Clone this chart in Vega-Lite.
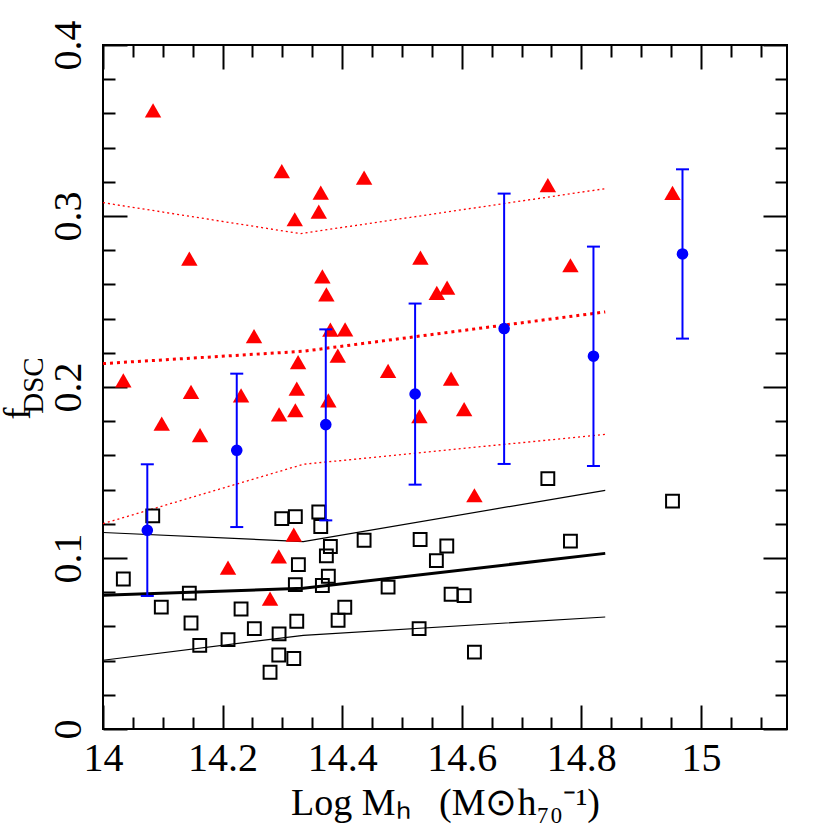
{
  "$schema": "https://vega.github.io/schema/vega-lite/v6.json",
  "width": 684,
  "height": 684,
  "autosize": "none",
  "padding": {"left": 103, "top": 45, "right": 43, "bottom": 101},
  "background": "white",
  "config": {
    "view": {"stroke": "black", "strokeWidth": 2},
    "axis": {"domain": false, "grid": false, "tickColor": "black", "tickWidth": 2, "labelColor": "black", "titleColor": "black", "labelFont": "Liberation Serif", "titleFont": "Liberation Serif", "titleFontWeight": "normal", "labelFlush": false, "labelOverlap": false, "labelBound": false}
  },
  "datasets": {
    "lines": [
      {"series": "black_mid", "x": 14.0, "y": 0.0782},
      {"series": "black_mid", "x": 14.335, "y": 0.0823},
      {"series": "black_mid", "x": 14.84, "y": 0.1027},
      {"series": "black_hi", "x": 14.0, "y": 0.1149},
      {"series": "black_hi", "x": 14.335, "y": 0.1096},
      {"series": "black_hi", "x": 14.84, "y": 0.1396},
      {"series": "black_lo", "x": 14.0, "y": 0.0402},
      {"series": "black_lo", "x": 14.335, "y": 0.0548},
      {"series": "black_lo", "x": 14.84, "y": 0.0655},
      {"series": "red_mid", "x": 14.0, "y": 0.2137},
      {"series": "red_mid", "x": 14.335, "y": 0.2209},
      {"series": "red_mid", "x": 14.84, "y": 0.2439},
      {"series": "red_hi", "x": 14.0, "y": 0.3078},
      {"series": "red_hi", "x": 14.33, "y": 0.2897},
      {"series": "red_hi", "x": 14.84, "y": 0.316},
      {"series": "red_lo", "x": 14.0, "y": 0.1201},
      {"series": "red_lo", "x": 14.335, "y": 0.1548},
      {"series": "red_lo", "x": 14.84, "y": 0.1723}
    ],
    "tri": [
      {"x": 14.034, "y": 0.2039}, {"x": 14.0837, "y": 0.3618}, {"x": 14.0982, "y": 0.1786},
      {"x": 14.1444, "y": 0.2751}, {"x": 14.1472, "y": 0.1971}, {"x": 14.1623, "y": 0.1718},
      {"x": 14.2091, "y": 0.0944}, {"x": 14.2309, "y": 0.1951}, {"x": 14.2526, "y": 0.2298},
      {"x": 14.2794, "y": 0.0763}, {"x": 14.294, "y": 0.101}, {"x": 14.2945, "y": 0.184},
      {"x": 14.299, "y": 0.3263}, {"x": 14.3191, "y": 0.1137}, {"x": 14.3217, "y": 0.1864},
      {"x": 14.3207, "y": 0.2981}, {"x": 14.3241, "y": 0.1991}, {"x": 14.3263, "y": 0.2146},
      {"x": 14.3609, "y": 0.3026}, {"x": 14.3642, "y": 0.3137}, {"x": 14.3669, "y": 0.2647},
      {"x": 14.3736, "y": 0.2542}, {"x": 14.3769, "y": 0.1922}, {"x": 14.3803, "y": 0.2336},
      {"x": 14.3927, "y": 0.2184}, {"x": 14.4049, "y": 0.2337}, {"x": 14.4367, "y": 0.3225},
      {"x": 14.4768, "y": 0.2094}, {"x": 14.5309, "y": 0.2757}, {"x": 14.5292, "y": 0.1829},
      {"x": 14.5583, "y": 0.255}, {"x": 14.5755, "y": 0.2581}, {"x": 14.5822, "y": 0.2049},
      {"x": 14.604, "y": 0.187}, {"x": 14.6212, "y": 0.1367}, {"x": 14.744, "y": 0.318},
      {"x": 14.7818, "y": 0.2712}, {"x": 14.9525, "y": 0.3135}
    ],
    "sq": [
      {"x": 14.034, "y": 0.0877}, {"x": 14.0832, "y": 0.1246}, {"x": 14.0975, "y": 0.0713},
      {"x": 14.1444, "y": 0.0795}, {"x": 14.1472, "y": 0.062}, {"x": 14.1618, "y": 0.0489},
      {"x": 14.2091, "y": 0.0523}, {"x": 14.2309, "y": 0.0702}, {"x": 14.2531, "y": 0.0587},
      {"x": 14.2794, "y": 0.0332}, {"x": 14.2945, "y": 0.0556}, {"x": 14.294, "y": 0.0433},
      {"x": 14.3191, "y": 0.0412}, {"x": 14.299, "y": 0.123}, {"x": 14.3217, "y": 0.1242},
      {"x": 14.3268, "y": 0.0961}, {"x": 14.3217, "y": 0.0844}, {"x": 14.3241, "y": 0.063},
      {"x": 14.3609, "y": 0.1269}, {"x": 14.3642, "y": 0.1184}, {"x": 14.3803, "y": 0.1067},
      {"x": 14.3736, "y": 0.1012}, {"x": 14.3769, "y": 0.0893}, {"x": 14.3669, "y": 0.0839},
      {"x": 14.4044, "y": 0.0712}, {"x": 14.3932, "y": 0.0636}, {"x": 14.4367, "y": 0.1104},
      {"x": 14.4768, "y": 0.083}, {"x": 14.5304, "y": 0.1108}, {"x": 14.575, "y": 0.107},
      {"x": 14.5576, "y": 0.0985}, {"x": 14.5822, "y": 0.0788}, {"x": 14.604, "y": 0.078},
      {"x": 14.5287, "y": 0.0587}, {"x": 14.6212, "y": 0.045}, {"x": 14.7818, "y": 0.1099},
      {"x": 14.9525, "y": 0.1333}, {"x": 14.744, "y": 0.1464}
    ],
    "blue": [
      {"x": 14.0741, "y": 0.1162, "lo": 0.0778, "hi": 0.1548},
      {"x": 14.2237, "y": 0.163, "lo": 0.1181, "hi": 0.2078},
      {"x": 14.3726, "y": 0.178, "lo": 0.122, "hi": 0.2337},
      {"x": 14.522, "y": 0.1959, "lo": 0.1429, "hi": 0.2488},
      {"x": 14.6709, "y": 0.2342, "lo": 0.155, "hi": 0.3131},
      {"x": 14.8203, "y": 0.218, "lo": 0.1538, "hi": 0.2821},
      {"x": 14.9692, "y": 0.2778, "lo": 0.2283, "hi": 0.3273}
    ]
  },
  "resolve": {"axis": {"x": "independent", "y": "independent"}},
  "layer": [
    {
      "data": {"name": "lines"},
      "transform": [{"filter": "datum.series === 'black_mid'"}],
      "mark": {"type": "line", "color": "black", "strokeWidth": 3},
      "encoding": {
        "x": {"field": "x", "type": "quantitative", "scale": {"domain": [14, 15.144], "nice": false, "zero": false},
          "axis": {"orient": "bottom", "values": [14, 14.2, 14.4, 14.6, 14.8, 15], "format": "~g", "tickSize": -24, "labelFontSize": 40, "labelBaseline": "alphabetic", "labelAlign": "center", "labelPadding": 65,
            "title": "Log M\u2095\u00a0\u00a0\u00a0(M\u2299h\u2087\u2080\u207b\u00b9)", "titleFontSize": 38, "titleBaseline": "alphabetic", "titleY": 85}},
        "y": {"field": "y", "type": "quantitative", "scale": {"domain": [0, 0.4], "nice": false, "zero": false},
          "axis": {"orient": "left", "values": [0, 0.1, 0.2, 0.3, 0.4], "format": "~g", "tickSize": -24, "labelFontSize": 40, "labelAngle": 270, "labelAlign": "center", "labelBaseline": "alphabetic", "labelPadding": 47,
            "title": "f", "titleFontSize": 37, "titleAngle": 270, "titleAlign": "center", "titleBaseline": "alphabetic", "titleX": -74, "titleY": 368}}
      }
    },
    {
      "data": {"name": "lines"},
      "transform": [{"filter": "datum.series === 'black_hi' || datum.series === 'black_lo'"}],
      "mark": {"type": "line", "color": "black", "strokeWidth": 1.2},
      "encoding": {
        "detail": {"field": "series"},
        "x": {"field": "x", "type": "quantitative", "scale": {"domain": [14, 15.144], "nice": false, "zero": false},
          "axis": {"orient": "bottom", "values": [14.05, 14.1, 14.15, 14.25, 14.3, 14.35, 14.45, 14.5, 14.55, 14.65, 14.7, 14.75, 14.85, 14.9, 14.95, 15.05, 15.1], "tickSize": -12, "labels": false, "title": null}},
        "y": {"field": "y", "type": "quantitative", "scale": {"domain": [0, 0.4], "nice": false, "zero": false},
          "axis": {"orient": "left", "values": [0.02, 0.04, 0.06, 0.08, 0.12, 0.14, 0.16, 0.18, 0.22, 0.24, 0.26, 0.28, 0.32, 0.34, 0.36, 0.38], "tickSize": -12, "labels": false,
            "title": "DSC", "titleFontSize": 29, "titleAngle": 270, "titleAlign": "center", "titleBaseline": "alphabetic", "titleX": -61, "titleY": 340}}
      }
    },
    {
      "data": {"name": "lines"},
      "transform": [{"filter": "datum.series === 'red_mid'"}],
      "mark": {"type": "line", "color": "#ff0000", "strokeWidth": 3, "strokeDash": [3, 4]},
      "encoding": {
        "x": {"field": "x", "type": "quantitative", "scale": {"domain": [14, 15.144], "nice": false, "zero": false},
          "axis": {"orient": "top", "values": [14, 14.2, 14.4, 14.6, 14.8, 15], "tickSize": -24, "labels": false, "title": null}},
        "y": {"field": "y", "type": "quantitative", "scale": {"domain": [0, 0.4], "nice": false, "zero": false},
          "axis": {"orient": "right", "values": [0, 0.1, 0.2, 0.3, 0.4], "tickSize": -24, "labels": false, "title": null}}
      }
    },
    {
      "data": {"name": "lines"},
      "transform": [{"filter": "datum.series === 'red_hi' || datum.series === 'red_lo'"}],
      "mark": {"type": "line", "color": "#ff0000", "strokeWidth": 1.3, "strokeDash": [2, 3]},
      "encoding": {
        "detail": {"field": "series"},
        "x": {"field": "x", "type": "quantitative", "scale": {"domain": [14, 15.144], "nice": false, "zero": false},
          "axis": {"orient": "top", "values": [14.05, 14.1, 14.15, 14.25, 14.3, 14.35, 14.45, 14.5, 14.55, 14.65, 14.7, 14.75, 14.85, 14.9, 14.95, 15.05, 15.1], "tickSize": -12, "labels": false, "title": null}},
        "y": {"field": "y", "type": "quantitative", "scale": {"domain": [0, 0.4], "nice": false, "zero": false},
          "axis": {"orient": "right", "values": [0.02, 0.04, 0.06, 0.08, 0.12, 0.14, 0.16, 0.18, 0.22, 0.24, 0.26, 0.28, 0.32, 0.34, 0.36, 0.38], "tickSize": -12, "labels": false, "title": null}}
      }
    },
    {
      "data": {"name": "sq"},
      "mark": {"type": "point", "shape": "square", "filled": false, "stroke": "black", "strokeWidth": 2, "size": 165, "opacity": 1},
      "encoding": {
        "x": {"field": "x", "type": "quantitative", "axis": null},
        "y": {"field": "y", "type": "quantitative", "axis": null}
      }
    },
    {
      "data": {"name": "tri"},
      "mark": {"type": "point", "shape": "triangle-up", "filled": true, "fill": "#ff0000", "strokeWidth": 0, "size": 270, "opacity": 1},
      "encoding": {
        "x": {"field": "x", "type": "quantitative", "axis": null},
        "y": {"field": "y", "type": "quantitative", "axis": null}
      }
    },
    {
      "data": {"name": "blue"},
      "mark": {"type": "rule", "color": "#0000ff", "strokeWidth": 2},
      "encoding": {
        "x": {"field": "x", "type": "quantitative", "axis": null},
        "y": {"field": "lo", "type": "quantitative", "axis": null},
        "y2": {"field": "hi"}
      }
    },
    {
      "data": {"name": "blue"},
      "mark": {"type": "tick", "orient": "horizontal", "color": "#0000ff", "size": 13, "thickness": 2, "opacity": 1},
      "encoding": {
        "x": {"field": "x", "type": "quantitative", "axis": null},
        "y": {"field": "lo", "type": "quantitative", "axis": null}
      }
    },
    {
      "data": {"name": "blue"},
      "mark": {"type": "tick", "orient": "horizontal", "color": "#0000ff", "size": 13, "thickness": 2, "opacity": 1},
      "encoding": {
        "x": {"field": "x", "type": "quantitative", "axis": null},
        "y": {"field": "hi", "type": "quantitative", "axis": null}
      }
    },
    {
      "data": {"name": "blue"},
      "mark": {"type": "point", "shape": "circle", "filled": true, "fill": "#0000ff", "strokeWidth": 0, "size": 135, "opacity": 1},
      "encoding": {
        "x": {"field": "x", "type": "quantitative", "axis": null},
        "y": {"field": "y", "type": "quantitative", "axis": null}
      }
    }
  ]
}
